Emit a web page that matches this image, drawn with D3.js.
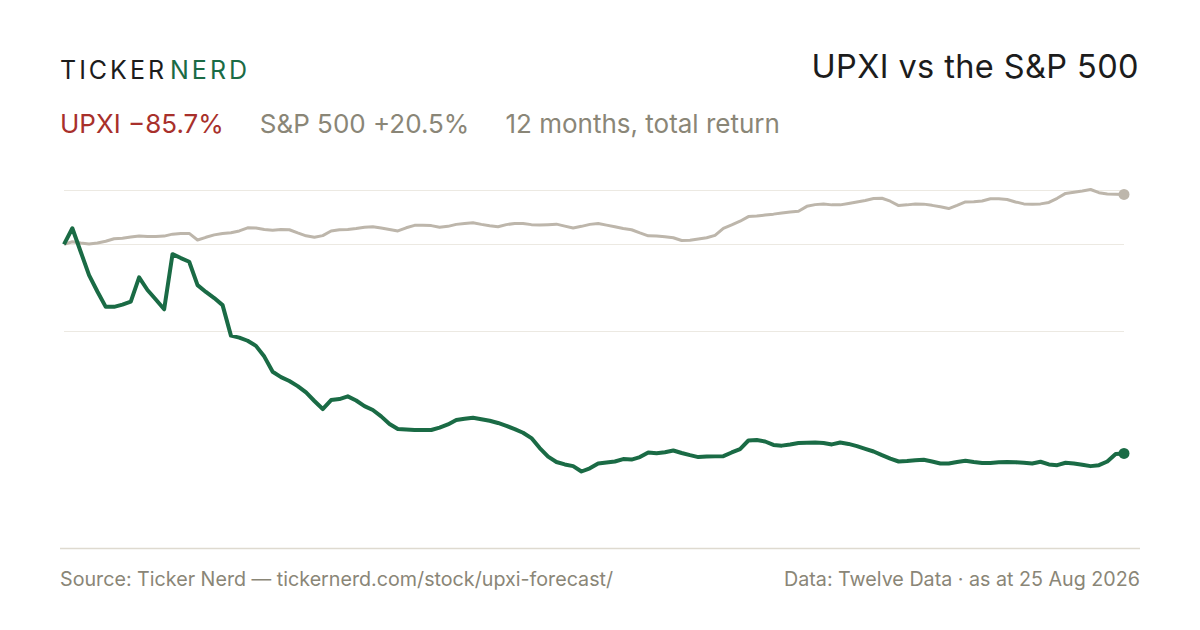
<!DOCTYPE html>
<html>
<head>
<meta charset="utf-8">
<script src="https://cdn.jsdelivr.net/npm/d3@7"></script>
<style>
  html, body { margin: 0; padding: 0; background: #fff; }
  svg { display: block; font-family: Inter, "Liberation Sans", Arial, sans-serif; }
</style>
</head>
<body>
<svg id="chart" width="1200" height="630"></svg>
<script>
// ---- data: 12 months of total return, % change from day one ----
var sessions = d3.range(128);

var upxiReturn = [
  0, 6.6, -3.0, -12.6, -19.3, -25.6, -25.6, -24.7, -23.5, -13.5,
  -18.7, -22.6, -26.6, -4.0, -5.6, -7.1, -16.7, -19.5, -22.0, -24.9,
  -37.4, -38.2, -39.5, -41.6, -46.0, -52.2, -54.4, -56.0, -58.1, -60.7,
  -64.2, -67.5, -63.8, -63.4, -62.3, -64.0, -66.3, -67.9, -70.5, -73.6,
  -75.7, -75.9, -76.1, -76.1, -76.1, -75.1, -73.8, -72.0, -71.5, -71.1,
  -71.7, -72.3, -73.2, -74.4, -75.7, -77.2, -79.4, -83.5, -87.0, -89.2,
  -90.2, -90.9, -93.1, -91.8, -89.8, -89.4, -89.0, -88.0, -88.2, -87.2,
  -85.3, -85.6, -85.2, -84.5, -85.5, -86.4, -87.2, -87.0, -86.9, -86.8,
  -85.3, -83.9, -80.4, -80.2, -80.8, -82.2, -82.5, -82.0, -81.4, -81.3,
  -81.2, -81.4, -82.0, -81.2, -81.8, -82.7, -83.8, -84.9, -86.4, -87.8,
  -89.0, -88.8, -88.5, -88.3, -89.0, -89.8, -89.8, -89.2, -88.7, -89.2,
  -89.6, -89.6, -89.3, -89.2, -89.3, -89.5, -89.8, -89.1, -90.2, -90.5,
  -89.5, -89.8, -90.3, -90.9, -90.5, -89.0, -85.9, -85.7
];

var spxReturn = [
  0, 1.1, 0.6, 0.2, 0.6, 1.3, 2.3, 2.5, 3.0, 3.4,
  3.2, 3.2, 3.4, 4.2, 4.5, 4.5, 1.8, 2.9, 3.9, 4.5,
  4.8, 5.5, 6.8, 6.7, 6.1, 5.8, 6.1, 6.0, 4.7, 3.5,
  2.9, 3.6, 5.5, 6.0, 6.1, 6.5, 7.0, 7.2, 6.7, 6.1,
  5.5, 6.8, 7.8, 7.8, 7.7, 7.0, 7.4, 8.2, 8.6, 8.9,
  8.2, 7.6, 7.2, 8.1, 8.6, 8.6, 8.1, 7.9, 8.1, 8.3,
  7.5, 6.7, 7.4, 8.2, 8.6, 7.9, 7.2, 6.5, 6.0, 4.7,
  3.5, 3.4, 3.1, 2.7, 1.6, 1.7, 2.2, 2.7, 3.7, 6.6,
  8.0, 9.5, 11.4, 11.6, 12.0, 12.4, 12.9, 13.3, 13.6, 15.6,
  16.3, 16.6, 16.2, 16.2, 16.8, 17.4, 18.0, 18.8, 18.9, 17.7,
  15.9, 16.2, 16.6, 16.5, 16.0, 15.4, 14.7, 16.0, 17.4, 17.5,
  17.8, 18.7, 18.7, 18.4, 17.4, 16.6, 16.5, 16.6, 17.2, 18.9,
  20.9, 21.4, 21.9, 22.5, 21.2, 20.7, 20.6, 20.5
];

var subtitleParts = ["UPXI \u221285.7%", "S&P 500 +20.5%", "12 months, total return"];
var titleText = "UPXI vs the S&P 500";
var sourceText = "Source: Ticker Nerd \u2014 tickernerd.com/stock/upxi-forecast/";
var dataText = "Data: Twelve Data \u00b7 as at 25 Aug 2026";

// ---- colours ----
var green = "#1a6b45", greyLine = "#bdb6ab", greyText = "#8a8677",
    red = "#a8302b", ink = "#1c1c1c", gridCol = "#ece9e2", ruleCol = "#dedad0";

var svg = d3.select("#chart");

// ---- scales ----
var yMin = d3.min(upxiReturn.concat(spxReturn));
var yMax = d3.max(upxiReturn.concat(spxReturn));

var x = d3.scaleLinear().domain([0, sessions.length - 1]).range([64, 1124]);
var y = d3.scaleLinear().domain([yMin, yMax]).range([471.5, 189.5]);

// gridlines: top of range, middle of range, and the zero line
var gridValues = [yMax, (yMax + yMin) / 2, 0];

svg.append("g")
  .selectAll("line")
  .data(gridValues)
  .enter()
  .append("line")
  .attr("x1", x.range()[0])
  .attr("x2", x.range()[1])
  .attr("y1", function(d) { return Math.round(y(d)) + 0.5; })
  .attr("y2", function(d) { return Math.round(y(d)) + 0.5; })
  .attr("stroke", gridCol)
  .attr("stroke-width", 1.2);

// bottom rule
svg.append("line")
  .attr("x1", 60).attr("x2", 1140)
  .attr("y1", 548.5).attr("y2", 548.5)
  .attr("stroke", ruleCol)
  .attr("stroke-width", 1.5);

// ---- lines ----
var line = d3.line()
  .x(function(d, i) { return x(sessions[i]); })
  .y(function(d) { return y(d); });

svg.append("path")
  .datum(spxReturn)
  .attr("d", line)
  .attr("fill", "none")
  .attr("stroke", greyLine)
  .attr("stroke-width", 3)
  .attr("stroke-linejoin", "round");

svg.append("path")
  .datum(upxiReturn)
  .attr("d", line)
  .attr("fill", "none")
  .attr("stroke", green)
  .attr("stroke-width", 4)
  .attr("stroke-linejoin", "round");

// end dots
var last = sessions.length - 1;
svg.append("circle")
  .attr("cx", x(sessions[last])).attr("cy", y(spxReturn[last]))
  .attr("r", 5.5).attr("fill", greyLine);
svg.append("circle")
  .attr("cx", x(sessions[last])).attr("cy", y(upxiReturn[last]))
  .attr("r", 5.5).attr("fill", green);

// ---- header ----
var logo = svg.append("text")
  .attr("x", 60).attr("y", 79)
  .attr("font-size", 25)
  .attr("letter-spacing", 3);
logo.append("tspan").attr("fill", ink).text("TICKER");
logo.append("tspan").attr("fill", green).attr("dx", 3).text("NERD");

svg.append("text")
  .attr("x", 1139).attr("y", 78)
  .attr("text-anchor", "end")
  .attr("font-size", 32.5)
  .attr("letter-spacing", 0.4)
  .attr("fill", ink)
  .text(titleText);

var subColours = [red, greyText, greyText];
var sx = 60;
subtitleParts.forEach(function(t, i) {
  var node = svg.append("text")
    .attr("x", sx).attr("y", 133)
    .attr("font-size", 26)
    .attr("fill", subColours[i])
    .text(t);
  sx += node.node().getComputedTextLength() + 36;
});

// ---- footer ----
svg.append("text")
  .attr("x", 60).attr("y", 586)
  .attr("font-size", 19.7)
  .attr("fill", greyText)
  .text(sourceText);

svg.append("text")
  .attr("x", 1140).attr("y", 586)
  .attr("text-anchor", "end")
  .attr("font-size", 19.7)
  .attr("fill", greyText)
  .text(dataText);
</script>
</body>
</html>
